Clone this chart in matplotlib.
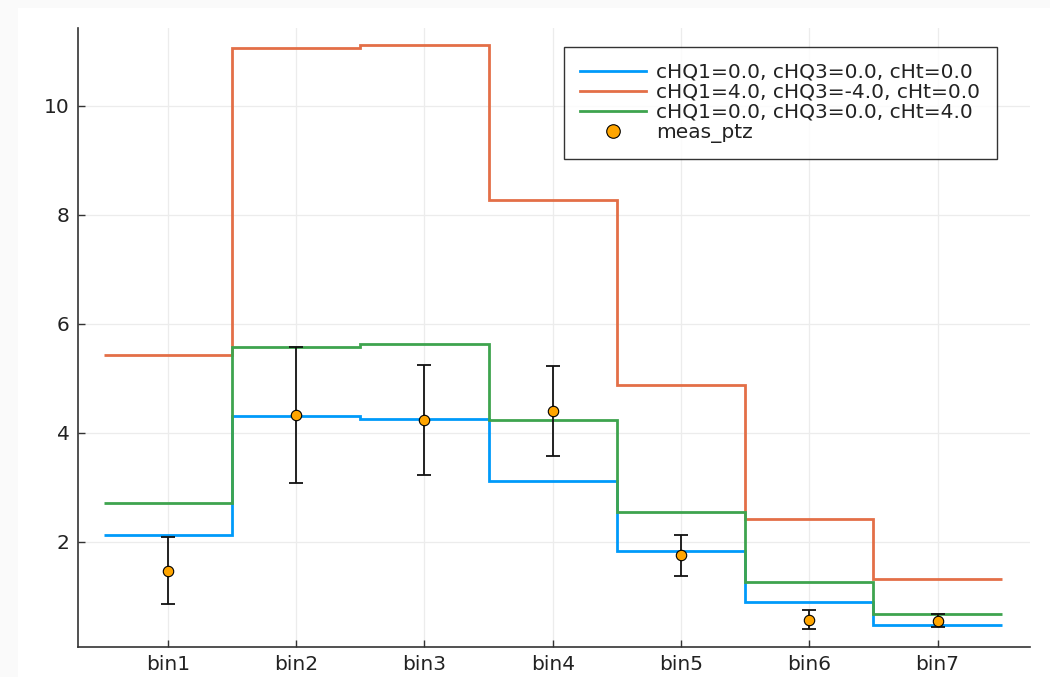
import matplotlib
matplotlib.use("Agg")
import matplotlib.pyplot as plt
import numpy as np

# Bin labels and predictions for each coefficient setting
bins = ["bin1", "bin2", "bin3", "bin4", "bin5", "bin6", "bin7"]
sm_pred = [2.13, 4.31, 4.25, 3.12, 1.83, 0.90, 0.48]
hq_pred = [5.43, 11.07, 11.11, 8.28, 4.88, 2.42, 1.31]
ht_pred = [2.72, 5.57, 5.63, 4.24, 2.55, 1.27, 0.68]

# Measurement with uncertainties
meas = [1.47, 4.33, 4.24, 4.40, 1.75, 0.57, 0.55]
meas_err = [0.62, 1.25, 1.01, 0.82, 0.37, 0.17, 0.12]

labels = ["cHQ1=0.0, cHQ3=0.0, cHt=0.0",
          "cHQ1=4.0, cHQ3=-4.0, cHt=0.0",
          "cHQ1=0.0, cHQ3=0.0, cHt=4.0"]
colors = ["#009AFA", "#E36F47", "#3EA44E"]

x = np.arange(1, len(bins) + 1)
edges = np.arange(0.5, len(bins) + 1.0, 1.0)

fig = plt.figure(figsize=(10.5, 6.77), dpi=100, facecolor="#fafafa")
# white canvas behind the plot
fig.patches.append(plt.Rectangle((18 / 1050, 0), 1, 1 - 8 / 677,
                                 transform=fig.transFigure,
                                 facecolor="white", edgecolor="none", zorder=-10))
ax = fig.add_axes([78 / 1050, 30 / 677, (1030 - 78) / 1050, (647 - 28) / 677])
ax.set_facecolor("white")

for vals, lab, col in zip([sm_pred, hq_pred, ht_pred], labels, colors):
    ax.stairs(vals, edges, baseline=None, color=col, linewidth=2, label=lab)

ax.errorbar(x, meas, yerr=meas_err, fmt="none", ecolor="#111111",
            elinewidth=1.3, capsize=5, capthick=1.3, zorder=3)
ax.plot(x, meas, "o", color="#FFA500", markeredgecolor="black",
        markeredgewidth=0.8, markersize=7.5, label="meas_ptz", zorder=4)

ax.set_xlim(0.30, 7.72)
ax.set_ylim(0.07, 11.43)
ax.set_xticks(x)
ax.set_xticklabels(bins)
ax.set_yticks([2, 4, 6, 8, 10])

for side in ["top", "right"]:
    ax.spines[side].set_visible(False)
for side in ["left", "bottom"]:
    ax.spines[side].set_color("#333333")
    ax.spines[side].set_linewidth(1.2)

ax.tick_params(direction="in", length=5, width=1, color="#333333",
               labelsize=14.5, labelcolor="#222222", pad=6)
ax.grid(True, color="#ececec", linewidth=0.9)
ax.set_axisbelow(True)

leg = ax.legend(loc="upper right", bbox_to_anchor=(0.9755, 0.986),
                fontsize=14.5, frameon=True, fancybox=False,
                handlelength=3.3, handletextpad=0.5, labelspacing=0.05,
                borderpad=0.8, markerscale=1.3, edgecolor="black")
leg.get_frame().set_linewidth(1.0)
for t in leg.get_texts():
    t.set_color("#222222")

fig.savefig("out.png", dpi=100, facecolor=fig.get_facecolor())
